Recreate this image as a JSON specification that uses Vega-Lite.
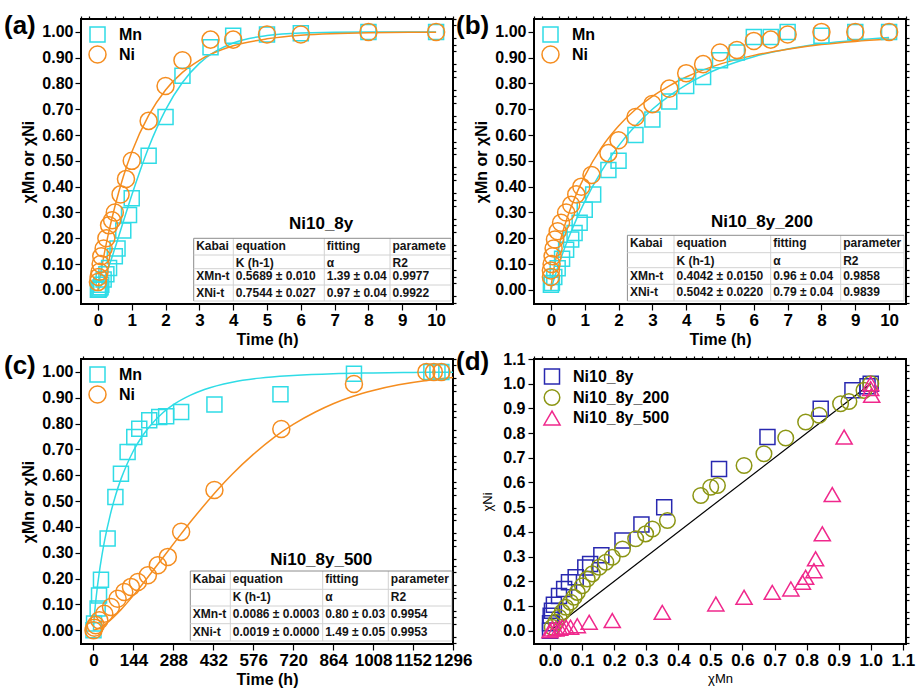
{
"$schema":"https://vega.github.io/schema/vega-lite/v6.json",
"background":"white",
"padding":{"left":3,"top":12,"right":5,"bottom":5},
"datasets":{
"grid":[{"k":0},{"k":1},{"k":2},{"k":3},{"k":4}],
"one":[{}],
"a_fit":[
{"s":"Mn","t":0,"v":0},{"s":"Mn","t":0.1,"v":0.018},{"s":"Mn","t":0.25,"v":0.064},{"s":"Mn","t":0.5,"v":0.16},{"s":"Mn","t":0.75,"v":0.264},{"s":"Mn","t":1,"v":0.367},{"s":"Mn","t":1.25,"v":0.463},{"s":"Mn","t":1.5,"v":0.552},{"s":"Mn","t":1.75,"v":0.63},{"s":"Mn","t":2,"v":0.698},{"s":"Mn","t":2.5,"v":0.804},{"s":"Mn","t":3,"v":0.878},{"s":"Mn","t":3.5,"v":0.926},{"s":"Mn","t":4,"v":0.957},{"s":"Mn","t":5,"v":0.986},{"s":"Mn","t":6,"v":0.996},{"s":"Mn","t":8,"v":1.0},{"s":"Mn","t":10,"v":1.0},
{"s":"Ni","t":0,"v":0},{"s":"Ni","t":0.01,"v":0.009},{"s":"Ni","t":0.02,"v":0.017},{"s":"Ni","t":0.05,"v":0.041},{"s":"Ni","t":0.1,"v":0.078},{"s":"Ni","t":0.2,"v":0.148},{"s":"Ni","t":0.3,"v":0.211},{"s":"Ni","t":0.5,"v":0.322},{"s":"Ni","t":0.75,"v":0.438},{"s":"Ni","t":1,"v":0.533},{"s":"Ni","t":1.5,"v":0.676},{"s":"Ni","t":2,"v":0.775},{"s":"Ni","t":2.5,"v":0.843},{"s":"Ni","t":3,"v":0.89},{"s":"Ni","t":4,"v":0.946},{"s":"Ni","t":5,"v":0.973},{"s":"Ni","t":6,"v":0.987},{"s":"Ni","t":8,"v":0.997},{"s":"Ni","t":10,"v":0.999}],
"a_pts":[
{"s":"Mn","t":0,"v":0.0},{"s":"Mn","t":0.02,"v":0.0},{"s":"Mn","t":0.05,"v":0.005},{"s":"Mn","t":0.08,"v":0.01},{"s":"Mn","t":0.1,"v":0.02},{"s":"Mn","t":0.17,"v":0.04},{"s":"Mn","t":0.25,"v":0.06},{"s":"Mn","t":0.33,"v":0.085},{"s":"Mn","t":0.5,"v":0.13},{"s":"Mn","t":0.58,"v":0.16},{"s":"Mn","t":0.75,"v":0.23},{"s":"Mn","t":0.92,"v":0.29},{"s":"Mn","t":1.0,"v":0.355},{"s":"Mn","t":1.5,"v":0.52},{"s":"Mn","t":2.0,"v":0.67},{"s":"Mn","t":2.5,"v":0.83},{"s":"Mn","t":3.33,"v":0.94},{"s":"Mn","t":4.0,"v":0.985},{"s":"Mn","t":5.0,"v":0.99},{"s":"Mn","t":6.0,"v":0.995},{"s":"Mn","t":8.0,"v":1.0},{"s":"Mn","t":10.0,"v":1.0},
{"s":"Ni","t":0,"v":0.03},{"s":"Ni","t":0.02,"v":0.05},{"s":"Ni","t":0.05,"v":0.07},{"s":"Ni","t":0.08,"v":0.1},{"s":"Ni","t":0.1,"v":0.13},{"s":"Ni","t":0.17,"v":0.16},{"s":"Ni","t":0.25,"v":0.2},{"s":"Ni","t":0.33,"v":0.25},{"s":"Ni","t":0.42,"v":0.27},{"s":"Ni","t":0.5,"v":0.3},{"s":"Ni","t":0.67,"v":0.37},{"s":"Ni","t":0.83,"v":0.43},{"s":"Ni","t":1.0,"v":0.5},{"s":"Ni","t":1.5,"v":0.655},{"s":"Ni","t":2.0,"v":0.79},{"s":"Ni","t":2.5,"v":0.89},{"s":"Ni","t":3.33,"v":0.97},{"s":"Ni","t":4.0,"v":0.97},{"s":"Ni","t":5.0,"v":0.99},{"s":"Ni","t":6.0,"v":0.99},{"s":"Ni","t":8.0,"v":1.0},{"s":"Ni","t":10.0,"v":1.0}],
"b_fit":[
{"s":"Mn","t":0,"v":0},{"s":"Mn","t":0.01,"v":0.005},{"s":"Mn","t":0.05,"v":0.023},{"s":"Mn","t":0.1,"v":0.045},{"s":"Mn","t":0.25,"v":0.105},{"s":"Mn","t":0.5,"v":0.194},{"s":"Mn","t":0.75,"v":0.272},{"s":"Mn","t":1,"v":0.342},{"s":"Mn","t":1.5,"v":0.461},{"s":"Mn","t":2,"v":0.558},{"s":"Mn","t":2.5,"v":0.636},{"s":"Mn","t":3,"v":0.7},{"s":"Mn","t":3.5,"v":0.752},{"s":"Mn","t":4,"v":0.795},{"s":"Mn","t":5,"v":0.86},{"s":"Mn","t":6,"v":0.904},{"s":"Mn","t":7,"v":0.934},{"s":"Mn","t":8,"v":0.954},{"s":"Mn","t":9,"v":0.968},{"s":"Mn","t":10,"v":0.978},
{"s":"Ni","t":0,"v":0},{"s":"Ni","t":0.01,"v":0.015},{"s":"Ni","t":0.02,"v":0.026},{"s":"Ni","t":0.05,"v":0.053},{"s":"Ni","t":0.1,"v":0.09},{"s":"Ni","t":0.25,"v":0.177},{"s":"Ni","t":0.5,"v":0.286},{"s":"Ni","t":0.75,"v":0.371},{"s":"Ni","t":1,"v":0.441},{"s":"Ni","t":1.5,"v":0.552},{"s":"Ni","t":2,"v":0.635},{"s":"Ni","t":2.5,"v":0.699},{"s":"Ni","t":3,"v":0.75},{"s":"Ni","t":3.5,"v":0.791},{"s":"Ni","t":4,"v":0.825},{"s":"Ni","t":5,"v":0.875},{"s":"Ni","t":6,"v":0.909},{"s":"Ni","t":7,"v":0.933},{"s":"Ni","t":8,"v":0.951},{"s":"Ni","t":9,"v":0.963},{"s":"Ni","t":10,"v":0.972}],
"b_pts":[
{"s":"Mn","t":0,"v":0.02},{"s":"Mn","t":0.03,"v":0.026},{"s":"Mn","t":0.1,"v":0.05},{"s":"Mn","t":0.2,"v":0.084},{"s":"Mn","t":0.33,"v":0.12},{"s":"Mn","t":0.45,"v":0.155},{"s":"Mn","t":0.6,"v":0.195},{"s":"Mn","t":0.7,"v":0.22},{"s":"Mn","t":0.85,"v":0.26},{"s":"Mn","t":1.0,"v":0.31},{"s":"Mn","t":1.25,"v":0.37},{"s":"Mn","t":1.7,"v":0.465},{"s":"Mn","t":2.0,"v":0.5},{"s":"Mn","t":2.5,"v":0.6},{"s":"Mn","t":3.0,"v":0.66},{"s":"Mn","t":3.5,"v":0.73},{"s":"Mn","t":4.0,"v":0.79},{"s":"Mn","t":4.5,"v":0.825},{"s":"Mn","t":5.0,"v":0.89},{"s":"Mn","t":5.5,"v":0.92},{"s":"Mn","t":6.0,"v":0.98},{"s":"Mn","t":6.5,"v":0.98},{"s":"Mn","t":7.0,"v":1.0},{"s":"Mn","t":8.0,"v":0.985},{"s":"Mn","t":9.0,"v":1.0},{"s":"Mn","t":10.0,"v":1.0},
{"s":"Ni","t":0,"v":0.05},{"s":"Ni","t":0.0,"v":0.075},{"s":"Ni","t":0.02,"v":0.1},{"s":"Ni","t":0.05,"v":0.13},{"s":"Ni","t":0.08,"v":0.16},{"s":"Ni","t":0.12,"v":0.195},{"s":"Ni","t":0.2,"v":0.227},{"s":"Ni","t":0.3,"v":0.26},{"s":"Ni","t":0.45,"v":0.3},{"s":"Ni","t":0.6,"v":0.33},{"s":"Ni","t":0.75,"v":0.37},{"s":"Ni","t":0.9,"v":0.4},{"s":"Ni","t":1.2,"v":0.445},{"s":"Ni","t":1.7,"v":0.53},{"s":"Ni","t":2.0,"v":0.58},{"s":"Ni","t":2.5,"v":0.67},{"s":"Ni","t":3.0,"v":0.72},{"s":"Ni","t":3.5,"v":0.78},{"s":"Ni","t":4.0,"v":0.84},{"s":"Ni","t":4.5,"v":0.875},{"s":"Ni","t":5.0,"v":0.92},{"s":"Ni","t":5.5,"v":0.93},{"s":"Ni","t":6.0,"v":0.965},{"s":"Ni","t":6.5,"v":0.97},{"s":"Ni","t":7.0,"v":0.99},{"s":"Ni","t":8.0,"v":1.0},{"s":"Ni","t":9.0,"v":1.0},{"s":"Ni","t":10.0,"v":1.0}],
"c_fit":[
{"s":"Mn","t":0,"v":0},{"s":"Mn","t":1,"v":0.022},{"s":"Mn","t":3,"v":0.052},{"s":"Mn","t":5,"v":0.078},{"s":"Mn","t":10,"v":0.131},{"s":"Mn","t":20,"v":0.217},{"s":"Mn","t":30,"v":0.287},{"s":"Mn","t":40,"v":0.347},{"s":"Mn","t":60,"v":0.445},{"s":"Mn","t":80,"v":0.524},{"s":"Mn","t":100,"v":0.588},{"s":"Mn","t":120,"v":0.641},{"s":"Mn","t":144,"v":0.695},{"s":"Mn","t":175,"v":0.75},{"s":"Mn","t":200,"v":0.786},{"s":"Mn","t":250,"v":0.842},{"s":"Mn","t":288,"v":0.873},{"s":"Mn","t":350,"v":0.91},{"s":"Mn","t":400,"v":0.932},{"s":"Mn","t":500,"v":0.96},{"s":"Mn","t":600,"v":0.976},{"s":"Mn","t":720,"v":0.986},{"s":"Mn","t":864,"v":0.993},{"s":"Mn","t":1008,"v":0.996},{"s":"Mn","t":1152,"v":0.998},{"s":"Mn","t":1296,"v":0.999},
{"s":"Ni","t":0,"v":0},{"s":"Ni","t":20,"v":0.008},{"s":"Ni","t":50,"v":0.03},{"s":"Ni","t":100,"v":0.081},{"s":"Ni","t":150,"v":0.143},{"s":"Ni","t":200,"v":0.211},{"s":"Ni","t":250,"v":0.281},{"s":"Ni","t":300,"v":0.351},{"s":"Ni","t":350,"v":0.42},{"s":"Ni","t":400,"v":0.485},{"s":"Ni","t":450,"v":0.547},{"s":"Ni","t":500,"v":0.604},{"s":"Ni","t":576,"v":0.681},{"s":"Ni","t":650,"v":0.746},{"s":"Ni","t":720,"v":0.797},{"s":"Ni","t":800,"v":0.845},{"s":"Ni","t":864,"v":0.877},{"s":"Ni","t":936,"v":0.906},{"s":"Ni","t":1008,"v":0.928},{"s":"Ni","t":1100,"v":0.95},{"s":"Ni","t":1200,"v":0.967},{"s":"Ni","t":1296,"v":0.978}],
"c_pts":[
{"s":"Mn","t":0,"v":0.0},{"s":"Mn","t":2,"v":0.026},{"s":"Mn","t":15,"v":0.084},{"s":"Mn","t":20,"v":0.135},{"s":"Mn","t":27,"v":0.196},{"s":"Mn","t":51,"v":0.355},{"s":"Mn","t":79,"v":0.516},{"s":"Mn","t":99,"v":0.606},{"s":"Mn","t":123,"v":0.69},{"s":"Mn","t":147,"v":0.748},{"s":"Mn","t":165,"v":0.78},{"s":"Mn","t":201,"v":0.813},{"s":"Mn","t":237,"v":0.826},{"s":"Mn","t":262,"v":0.828},{"s":"Mn","t":316,"v":0.845},{"s":"Mn","t":436,"v":0.874},{"s":"Mn","t":674,"v":0.914},{"s":"Mn","t":939,"v":0.993},{"s":"Mn","t":1218,"v":1.0},{"s":"Mn","t":1240,"v":1.0},{"s":"Mn","t":1254,"v":1.0},
{"s":"Ni","t":0,"v":0.0},{"s":"Ni","t":3,"v":0.01},{"s":"Ni","t":8,"v":0.02},{"s":"Ni","t":21,"v":0.039},{"s":"Ni","t":39,"v":0.064},{"s":"Ni","t":63,"v":0.09},{"s":"Ni","t":87,"v":0.122},{"s":"Ni","t":111,"v":0.148},{"s":"Ni","t":135,"v":0.168},{"s":"Ni","t":160,"v":0.187},{"s":"Ni","t":196,"v":0.213},{"s":"Ni","t":232,"v":0.252},{"s":"Ni","t":268,"v":0.284},{"s":"Ni","t":316,"v":0.381},{"s":"Ni","t":436,"v":0.543},{"s":"Ni","t":677,"v":0.779},{"s":"Ni","t":939,"v":0.953},{"s":"Ni","t":1200,"v":1.0},{"s":"Ni","t":1227,"v":1.0},{"s":"Ni","t":1254,"v":1.0}],
"d_line":[{"x":0,"y":0},{"x":1,"y":1}],
"d_pts":[
{"s":"Ni10_8y","x":0,"y":0},{"s":"Ni10_8y","x":0.0,"y":0.03},{"s":"Ni10_8y","x":0.002,"y":0.06},{"s":"Ni10_8y","x":0.006,"y":0.081},{"s":"Ni10_8y","x":0.012,"y":0.105},{"s":"Ni10_8y","x":0.028,"y":0.14},{"s":"Ni10_8y","x":0.044,"y":0.169},{"s":"Ni10_8y","x":0.059,"y":0.196},{"s":"Ni10_8y","x":0.08,"y":0.216},{"s":"Ni10_8y","x":0.11,"y":0.256},{"s":"Ni10_8y","x":0.125,"y":0.27},{"s":"Ni10_8y","x":0.16,"y":0.305},{"s":"Ni10_8y","x":0.226,"y":0.365},{"s":"Ni10_8y","x":0.285,"y":0.43},{"s":"Ni10_8y","x":0.356,"y":0.5},{"s":"Ni10_8y","x":0.527,"y":0.655},{"s":"Ni10_8y","x":0.678,"y":0.784},{"s":"Ni10_8y","x":0.844,"y":0.899},{"s":"Ni10_8y","x":0.943,"y":0.973},{"s":"Ni10_8y","x":0.99,"y":0.99},{"s":"Ni10_8y","x":1.0,"y":1.0},
{"s":"Ni10_8y_200","x":0.007,"y":0.014},{"s":"Ni10_8y_200","x":0.018,"y":0.035},{"s":"Ni10_8y_200","x":0.028,"y":0.054},{"s":"Ni10_8y_200","x":0.038,"y":0.075},{"s":"Ni10_8y_200","x":0.049,"y":0.095},{"s":"Ni10_8y_200","x":0.064,"y":0.115},{"s":"Ni10_8y_200","x":0.075,"y":0.135},{"s":"Ni10_8y_200","x":0.085,"y":0.155},{"s":"Ni10_8y_200","x":0.101,"y":0.182},{"s":"Ni10_8y_200","x":0.116,"y":0.209},{"s":"Ni10_8y_200","x":0.132,"y":0.23},{"s":"Ni10_8y_200","x":0.153,"y":0.257},{"s":"Ni10_8y_200","x":0.174,"y":0.277},{"s":"Ni10_8y_200","x":0.194,"y":0.297},{"s":"Ni10_8y_200","x":0.226,"y":0.331},{"s":"Ni10_8y_200","x":0.267,"y":0.372},{"s":"Ni10_8y_200","x":0.298,"y":0.392},{"s":"Ni10_8y_200","x":0.319,"y":0.412},{"s":"Ni10_8y_200","x":0.366,"y":0.446},{"s":"Ni10_8y_200","x":0.47,"y":0.547},{"s":"Ni10_8y_200","x":0.501,"y":0.581},{"s":"Ni10_8y_200","x":0.522,"y":0.588},{"s":"Ni10_8y_200","x":0.605,"y":0.669},{"s":"Ni10_8y_200","x":0.667,"y":0.716},{"s":"Ni10_8y_200","x":0.735,"y":0.78},{"s":"Ni10_8y_200","x":0.797,"y":0.845},{"s":"Ni10_8y_200","x":0.839,"y":0.872},{"s":"Ni10_8y_200","x":0.906,"y":0.919},{"s":"Ni10_8y_200","x":0.932,"y":0.928},{"s":"Ni10_8y_200","x":0.979,"y":0.973},{"s":"Ni10_8y_200","x":1.0,"y":1.0},
{"s":"Ni10_8y_500","x":0.0,"y":0.0},{"s":"Ni10_8y_500","x":0.007,"y":0.007},{"s":"Ni10_8y_500","x":0.018,"y":0.007},{"s":"Ni10_8y_500","x":0.03,"y":0.01},{"s":"Ni10_8y_500","x":0.038,"y":0.014},{"s":"Ni10_8y_500","x":0.05,"y":0.014},{"s":"Ni10_8y_500","x":0.064,"y":0.014},{"s":"Ni10_8y_500","x":0.085,"y":0.02},{"s":"Ni10_8y_500","x":0.122,"y":0.034},{"s":"Ni10_8y_500","x":0.194,"y":0.041},{"s":"Ni10_8y_500","x":0.35,"y":0.074},{"s":"Ni10_8y_500","x":0.517,"y":0.108},{"s":"Ni10_8y_500","x":0.605,"y":0.135},{"s":"Ni10_8y_500","x":0.693,"y":0.155},{"s":"Ni10_8y_500","x":0.751,"y":0.169},{"s":"Ni10_8y_500","x":0.787,"y":0.196},{"s":"Ni10_8y_500","x":0.797,"y":0.216},{"s":"Ni10_8y_500","x":0.823,"y":0.243},{"s":"Ni10_8y_500","x":0.828,"y":0.291},{"s":"Ni10_8y_500","x":0.849,"y":0.392},{"s":"Ni10_8y_500","x":0.88,"y":0.551},{"s":"Ni10_8y_500","x":0.917,"y":0.784},{"s":"Ni10_8y_500","x":1.003,"y":0.953},{"s":"Ni10_8y_500","x":1.0,"y":0.98},{"s":"Ni10_8y_500","x":1.0,"y":1.0}],
"a_tab":[{"r":0,"c":0,"txt":"Kabai"},{"r":0,"c":1,"txt":"equation"},{"r":0,"c":2,"txt":"fitting"},{"r":0,"c":3,"txt":"paramete"},{"r":1,"c":1,"txt":"K (h-1)"},{"r":1,"c":2,"txt":"α"},{"r":1,"c":3,"txt":"R2"},{"r":2,"c":0,"txt":"XMn-t"},{"r":2,"c":1,"txt":"0.5689 ± 0.010"},{"r":2,"c":2,"txt":"1.39 ± 0.04"},{"r":2,"c":3,"txt":"0.9977"},{"r":3,"c":0,"txt":"XNi-t"},{"r":3,"c":1,"txt":"0.7544 ± 0.027"},{"r":3,"c":2,"txt":"0.97 ± 0.04"},{"r":3,"c":3,"txt":"0.9922"}],
"b_tab":[{"r":0,"c":0,"txt":"Kabai"},{"r":0,"c":1,"txt":"equation"},{"r":0,"c":2,"txt":"fitting"},{"r":0,"c":3,"txt":"parameter"},{"r":1,"c":1,"txt":"K (h-1)"},{"r":1,"c":2,"txt":"α"},{"r":1,"c":3,"txt":"R2"},{"r":2,"c":0,"txt":"XMn-t"},{"r":2,"c":1,"txt":"0.4042 ± 0.0150"},{"r":2,"c":2,"txt":"0.96 ± 0.04"},{"r":2,"c":3,"txt":"0.9858"},{"r":3,"c":0,"txt":"XNi-t"},{"r":3,"c":1,"txt":"0.5042 ± 0.0220"},{"r":3,"c":2,"txt":"0.79 ± 0.04"},{"r":3,"c":3,"txt":"0.9839"}],
"c_tab":[{"r":0,"c":0,"txt":"Kabai"},{"r":0,"c":1,"txt":"equation"},{"r":0,"c":2,"txt":"fitting"},{"r":0,"c":3,"txt":"parameter"},{"r":1,"c":1,"txt":"K (h-1)"},{"r":1,"c":2,"txt":"α"},{"r":1,"c":3,"txt":"R2"},{"r":2,"c":0,"txt":"XMn-t"},{"r":2,"c":1,"txt":"0.0086 ± 0.0003"},{"r":2,"c":2,"txt":"0.80 ± 0.03"},{"r":2,"c":3,"txt":"0.9954"},{"r":3,"c":0,"txt":"XNi-t"},{"r":3,"c":1,"txt":"0.0019 ± 0.0000"},{"r":3,"c":2,"txt":"1.49 ± 0.05"},{"r":3,"c":3,"txt":"0.9953"}]
},
"columns":2,
"spacing":{"row":55,"column":81},
"bounds":"flush",
"resolve":{"scale":{"color":"independent","shape":"independent","size":"independent","x":"independent","y":"independent"},"legend":{"color":"independent","shape":"independent","size":"independent"}},
"concat":[
{
"width":372,"height":285,
"title":{"text":"(a)","anchor":"start","frame":"group","dx":-77,"offset":0,"dy":24,"fontSize":26,"fontWeight":"bold","font":"Liberation Sans","color":"black"},
"layer":[
{"layer":[
{"data":{"name":"a_fit"},"transform":[{"filter":"datum.s=='Mn'"}],"mark":{"type":"line","strokeWidth":1.5,"interpolate":"monotone","color":"#2fdce6"},
"encoding":{
"x":{"field":"t","type":"quantitative","scale":{"domain":[-0.5,10.5],"nice":false,"zero":false},
"axis":{"values":[0,1,2,3,4,5,6,7,8,9,10],"tickCount":200,"format":"d","title":"Time (h)","labelFontSize":17,"labelPadding":2,"titlePadding":3,"tickSize":6,"labelOverlap":false}},
"y":{"field":"v","type":"quantitative","scale":{"domain":[-0.055,1.05],"nice":false,"zero":false},
"axis":{"values":[0,0.1,0.2,0.3,0.4,0.5,0.6,0.7,0.8,0.9,1],"tickCount":200,"format":".2f","title":"χMn or χNi","labelPadding":2,"titlePadding":5,"tickSize":6,"labelOverlap":false}}}},
{"data":{"name":"a_fit"},"transform":[{"filter":"datum.s=='Ni'"}],"mark":{"type":"line","strokeWidth":1.5,"interpolate":"monotone","color":"#f58d1f"},
"encoding":{"x":{"field":"t","type":"quantitative"},"y":{"field":"v","type":"quantitative"}}},
{"data":{"name":"a_pts"},"mark":{"type":"point","filled":false,"strokeWidth":1.5,"opacity":1},
"encoding":{"x":{"field":"t","type":"quantitative"},"y":{"field":"v","type":"quantitative"},
"color":{"field":"s","type":"nominal","scale":{"domain":["Mn","Ni"],"range":["#2fdce6","#f58d1f"]},"legend":{"title":null}},
"shape":{"field":"s","type":"nominal","scale":{"domain":["Mn","Ni"],"range":["square","circle"]},"legend":{"title":null}},
"size":{"field":"s","type":"ordinal","scale":{"domain":["Mn","Ni"],"range":[225,290]},"legend":null}}},
{"data":{"name":"one"},"mark":{"type":"text","fontSize":17,"fontWeight":"bold","color":"black","align":"center","baseline":"middle"},
"encoding":{"x":{"datum":6.6,"type":"quantitative"},"y":{"datum":0.257,"type":"quantitative"},"text":{"value":"Ni10_8y"}}}
]},
{"data":{"name":"one"},"mark":{"type":"point","opacity":0},
"encoding":{"x":{"datum":0,"type":"quantitative","scale":{"domain":[-0.5,10.5],"nice":false,"zero":false},"axis":{"values":[-0.5,-0.25,0.25,0.5,0.75,1.25,1.5,1.75,2.25,2.5,2.75,3.25,3.5,3.75,4.25,4.5,4.75,5.25,5.5,5.75,6.25,6.5,6.75,7.25,7.5,7.75,8.25,8.5,8.75,9.25,9.5,9.75,10.25,10.5],"tickCount":200,"labels":false,"title":null,"tickSize":3}},
"y":{"datum":0,"type":"quantitative","scale":{"domain":[-0.055,1.05],"nice":false,"zero":false},"axis":{"values":[-0.05,-0.025,0.025,0.05,0.075,0.125,0.15,0.175,0.225,0.25,0.275,0.325,0.35,0.375,0.425,0.45,0.475,0.525,0.55,0.575,0.625,0.65,0.675,0.725,0.75,0.775,0.825,0.85,0.875,0.925,0.95,0.975,1.025,1.05],"tickCount":200,"labels":false,"title":null,"tickSize":3}}}},
{"layer":[
{"data":{"name":"grid"},"mark":{"type":"rule","strokeWidth":1},
"encoding":{"x":{"field":"k","type":"quantitative","scale":{"domain":[0,1,2,3,4],"range":[112.7,152.3,243.3,309,370],"nice":false,"zero":false},"axis":null},
"y":{"datum":0,"type":"quantitative","scale":{"domain":[0,1,2,3,4],"range":[219.3,236,249.7,266,282],"nice":false,"zero":false},"axis":null},"y2":{"datum":4},
"color":{"condition":{"test":"datum.k==0","value":"#8c8c8c"},"value":"#d2d2d2"}}},
{"data":{"name":"grid"},"mark":{"type":"rule","strokeWidth":1},
"encoding":{"y":{"field":"k","type":"quantitative"},"x":{"datum":0,"type":"quantitative"},"x2":{"datum":4},
"color":{"condition":{"test":"datum.k==0","value":"#8c8c8c"},"value":"#d2d2d2"}}},
{"data":{"name":"a_tab"},"mark":{"type":"text","align":"left","baseline":"middle","dx":2.5,"dy":7.5,"fontSize":12,"fontWeight":"bold","color":"#141414"},
"encoding":{"x":{"field":"c","type":"quantitative"},"y":{"field":"r","type":"quantitative"},"text":{"field":"txt"}}}
]}
],
"resolve":{"scale":{"x":"independent","y":"independent"},"axis":{"x":"independent","y":"independent"}}
},
{
"width":372,"height":285,
"title":{"text":"(b)","anchor":"start","frame":"group","dx":-78,"offset":0,"dy":24,"fontSize":26,"fontWeight":"bold","font":"Liberation Sans","color":"black"},
"layer":[
{"layer":[
{"data":{"name":"b_fit"},"transform":[{"filter":"datum.s=='Mn'"}],"mark":{"type":"line","strokeWidth":1.5,"interpolate":"monotone","color":"#2fdce6"},
"encoding":{
"x":{"field":"t","type":"quantitative","scale":{"domain":[-0.5,10.5],"nice":false,"zero":false},
"axis":{"values":[0,1,2,3,4,5,6,7,8,9,10],"tickCount":200,"format":"d","title":"Time (h)","labelFontSize":17,"labelPadding":2,"titlePadding":3,"tickSize":6,"labelOverlap":false}},
"y":{"field":"v","type":"quantitative","scale":{"domain":[-0.055,1.05],"nice":false,"zero":false},
"axis":{"values":[0,0.1,0.2,0.3,0.4,0.5,0.6,0.7,0.8,0.9,1],"tickCount":200,"format":".2f","title":"χMn or χNi","labelPadding":2,"titlePadding":5,"tickSize":6,"labelOverlap":false}}}},
{"data":{"name":"b_fit"},"transform":[{"filter":"datum.s=='Ni'"}],"mark":{"type":"line","strokeWidth":1.5,"interpolate":"monotone","color":"#f58d1f"},
"encoding":{"x":{"field":"t","type":"quantitative"},"y":{"field":"v","type":"quantitative"}}},
{"data":{"name":"b_pts"},"mark":{"type":"point","filled":false,"strokeWidth":1.5,"opacity":1},
"encoding":{"x":{"field":"t","type":"quantitative"},"y":{"field":"v","type":"quantitative"},
"color":{"field":"s","type":"nominal","scale":{"domain":["Mn","Ni"],"range":["#2fdce6","#f58d1f"]},"legend":{"title":null}},
"shape":{"field":"s","type":"nominal","scale":{"domain":["Mn","Ni"],"range":["square","circle"]},"legend":{"title":null}},
"size":{"field":"s","type":"ordinal","scale":{"domain":["Mn","Ni"],"range":[225,290]},"legend":null}}},
{"data":{"name":"one"},"mark":{"type":"text","fontSize":17,"fontWeight":"bold","color":"black","align":"center","baseline":"middle"},
"encoding":{"x":{"datum":6.24,"type":"quantitative"},"y":{"datum":0.263,"type":"quantitative"},"text":{"value":"Ni10_8y_200"}}}
]},
{"data":{"name":"one"},"mark":{"type":"point","opacity":0},
"encoding":{"x":{"datum":0,"type":"quantitative","scale":{"domain":[-0.5,10.5],"nice":false,"zero":false},"axis":{"values":[-0.5,-0.25,0.25,0.5,0.75,1.25,1.5,1.75,2.25,2.5,2.75,3.25,3.5,3.75,4.25,4.5,4.75,5.25,5.5,5.75,6.25,6.5,6.75,7.25,7.5,7.75,8.25,8.5,8.75,9.25,9.5,9.75,10.25,10.5],"tickCount":200,"labels":false,"title":null,"tickSize":3}},
"y":{"datum":0,"type":"quantitative","scale":{"domain":[-0.055,1.05],"nice":false,"zero":false},"axis":{"values":[-0.05,-0.025,0.025,0.05,0.075,0.125,0.15,0.175,0.225,0.25,0.275,0.325,0.35,0.375,0.425,0.45,0.475,0.525,0.55,0.575,0.625,0.65,0.675,0.725,0.75,0.775,0.825,0.85,0.875,0.925,0.95,0.975,1.025,1.05],"tickCount":200,"labels":false,"title":null,"tickSize":3}}}},
{"layer":[
{"data":{"name":"grid"},"mark":{"type":"rule","strokeWidth":1},
"encoding":{"x":{"field":"k","type":"quantitative","scale":{"domain":[0,1,2,3,4],"range":[93.4,140,236.7,306.7,370],"nice":false,"zero":false},"axis":null},
"y":{"datum":0,"type":"quantitative","scale":{"domain":[0,1,2,3,4],"range":[216.3,233.7,248.7,265.3,282],"nice":false,"zero":false},"axis":null},"y2":{"datum":4},
"color":{"condition":{"test":"datum.k==0","value":"#8c8c8c"},"value":"#d2d2d2"}}},
{"data":{"name":"grid"},"mark":{"type":"rule","strokeWidth":1},
"encoding":{"y":{"field":"k","type":"quantitative"},"x":{"datum":0,"type":"quantitative"},"x2":{"datum":4},
"color":{"condition":{"test":"datum.k==0","value":"#8c8c8c"},"value":"#d2d2d2"}}},
{"data":{"name":"b_tab"},"mark":{"type":"text","align":"left","baseline":"middle","dx":2.5,"dy":8,"fontSize":12,"fontWeight":"bold","color":"#141414"},
"encoding":{"x":{"field":"c","type":"quantitative"},"y":{"field":"r","type":"quantitative"},"text":{"field":"txt"}}}
]}
],
"resolve":{"scale":{"x":"independent","y":"independent"},"axis":{"x":"independent","y":"independent"}}
},
{
"width":372,"height":285,
"title":{"text":"(c)","anchor":"start","frame":"group","dx":-77,"offset":0,"dy":24,"fontSize":26,"fontWeight":"bold","font":"Liberation Sans","color":"black"},
"layer":[
{"layer":[
{"data":{"name":"c_fit"},"transform":[{"filter":"datum.s=='Mn'"}],"mark":{"type":"line","strokeWidth":1.5,"interpolate":"monotone","color":"#2fdce6"},
"encoding":{
"x":{"field":"t","type":"quantitative","scale":{"domain":[-45,1296],"nice":false,"zero":false},
"axis":{"values":[0,144,288,432,576,720,864,1008,1152,1296],"tickCount":200,"format":"d","title":"Time (h)","labelFontSize":17,"labelPadding":2,"titlePadding":3,"tickSize":6,"labelOverlap":false}},
"y":{"field":"v","type":"quantitative","scale":{"domain":[-0.053,1.05],"nice":false,"zero":false},
"axis":{"values":[0,0.1,0.2,0.3,0.4,0.5,0.6,0.7,0.8,0.9,1],"tickCount":200,"format":".2f","title":"χMn or χNi","labelPadding":2,"titlePadding":5,"tickSize":6,"labelOverlap":false}}}},
{"data":{"name":"c_fit"},"transform":[{"filter":"datum.s=='Ni'"}],"mark":{"type":"line","strokeWidth":1.5,"interpolate":"monotone","color":"#f58d1f"},
"encoding":{"x":{"field":"t","type":"quantitative"},"y":{"field":"v","type":"quantitative"}}},
{"data":{"name":"c_pts"},"mark":{"type":"point","filled":false,"strokeWidth":1.5,"opacity":1},
"encoding":{"x":{"field":"t","type":"quantitative"},"y":{"field":"v","type":"quantitative"},
"color":{"field":"s","type":"nominal","scale":{"domain":["Mn","Ni"],"range":["#2fdce6","#f58d1f"]},"legend":{"title":null}},
"shape":{"field":"s","type":"nominal","scale":{"domain":["Mn","Ni"],"range":["square","circle"]},"legend":{"title":null}},
"size":{"field":"s","type":"ordinal","scale":{"domain":["Mn","Ni"],"range":[225,290]},"legend":null}}},
{"data":{"name":"one"},"mark":{"type":"text","fontSize":17,"fontWeight":"bold","color":"black","align":"center","baseline":"middle"},
"encoding":{"x":{"datum":821,"type":"quantitative"},"y":{"datum":0.271,"type":"quantitative"},"text":{"value":"Ni10_8y_500"}}}
]},
{"data":{"name":"one"},"mark":{"type":"point","opacity":0},
"encoding":{"x":{"datum":0,"type":"quantitative","scale":{"domain":[-45,1296],"nice":false,"zero":false},"axis":{"values":[-36,36,72,108,180,216,252,324,360,396,468,504,540,612,648,684,756,792,828,900,936,972,1044,1080,1116,1188,1224,1260],"tickCount":200,"labels":false,"title":null,"tickSize":3}},
"y":{"datum":0,"type":"quantitative","scale":{"domain":[-0.053,1.05],"nice":false,"zero":false},"axis":{"values":[-0.05,-0.025,0.025,0.05,0.075,0.125,0.15,0.175,0.225,0.25,0.275,0.325,0.35,0.375,0.425,0.45,0.475,0.525,0.55,0.575,0.625,0.65,0.675,0.725,0.75,0.775,0.825,0.85,0.875,0.925,0.95,0.975,1.025,1.05],"tickCount":200,"labels":false,"title":null,"tickSize":3}}}},
{"layer":[
{"data":{"name":"grid"},"mark":{"type":"rule","strokeWidth":1},
"encoding":{"x":{"field":"k","type":"quantitative","scale":{"domain":[0,1,2,3,4],"range":[109.3,149.3,241.7,307.3,370.7],"nice":false,"zero":false},"axis":null},
"y":{"datum":0,"type":"quantitative","scale":{"domain":[0,1,2,3,4],"range":[212,230.3,247,264.7,282],"nice":false,"zero":false},"axis":null},"y2":{"datum":4},
"color":{"condition":{"test":"datum.k==0","value":"#8c8c8c"},"value":"#d2d2d2"}}},
{"data":{"name":"grid"},"mark":{"type":"rule","strokeWidth":1},
"encoding":{"y":{"field":"k","type":"quantitative"},"x":{"datum":0,"type":"quantitative"},"x2":{"datum":4},
"color":{"condition":{"test":"datum.k==0","value":"#8c8c8c"},"value":"#d2d2d2"}}},
{"data":{"name":"c_tab"},"mark":{"type":"text","align":"left","baseline":"middle","dx":2.5,"dy":8,"fontSize":12,"fontWeight":"bold","color":"#141414"},
"encoding":{"x":{"field":"c","type":"quantitative"},"y":{"field":"r","type":"quantitative"},"text":{"field":"txt"}}}
]}
],
"resolve":{"scale":{"x":"independent","y":"independent"},"axis":{"x":"independent","y":"independent"}}
},
{
"width":372,"height":285,
"title":{"text":"(d)","anchor":"start","frame":"group","dx":-78,"offset":0,"dy":24,"fontSize":26,"fontWeight":"bold","font":"Liberation Sans","color":"black"},
"layer":[
{"layer":[
{"data":{"name":"d_line"},"mark":{"type":"line","strokeWidth":1.2,"color":"black"},
"encoding":{
"x":{"field":"x","type":"quantitative","scale":{"domain":[-0.05,1.11],"nice":false,"zero":false},
"axis":{"values":[0,0.1,0.2,0.3,0.4,0.5,0.6,0.7,0.8,0.9,1,1.1],"tickCount":200,"format":".1f","title":"χMn","titleFontSize":13,"titleFontWeight":"normal","labelFontSize":17,"labelPadding":2,"titlePadding":4,"tickSize":6,"labelOverlap":false}},
"y":{"field":"y","type":"quantitative","scale":{"domain":[-0.054,1.1],"nice":false,"zero":false},
"axis":{"values":[0,0.1,0.2,0.3,0.4,0.5,0.6,0.7,0.8,0.9,1,1.1],"tickCount":200,"format":".1f","title":"χNi","titleFontSize":13,"titleFontWeight":"normal","labelPadding":3,"titlePadding":8,"tickSize":6,"labelOverlap":false}}}},
{"data":{"name":"d_pts"},"mark":{"type":"point","filled":false,"strokeWidth":1.5,"opacity":1},
"encoding":{"x":{"field":"x","type":"quantitative"},"y":{"field":"y","type":"quantitative"},
"color":{"field":"s","type":"nominal","scale":{"domain":["Ni10_8y","Ni10_8y_200","Ni10_8y_500"],"range":["#2828b0","#8c9614","#f0288c"]},"legend":{"title":null,"offset":9,"symbolSize":225,"rowPadding":-0.5}},
"shape":{"field":"s","type":"nominal","scale":{"domain":["Ni10_8y","Ni10_8y_200","Ni10_8y_500"],"range":["square","circle","triangle-up"]},"legend":{"title":null,"offset":9,"symbolSize":225,"rowPadding":-0.5}},
"size":{"field":"s","type":"ordinal","scale":{"domain":["Ni10_8y","Ni10_8y_200","Ni10_8y_500"],"range":[225,260,400]},"legend":null}}}
]},
{"data":{"name":"one"},"mark":{"type":"point","opacity":0},
"encoding":{"x":{"datum":0,"type":"quantitative","scale":{"domain":[-0.05,1.11],"nice":false,"zero":false},"axis":{"values":[-0.05,-0.025,0.025,0.05,0.075,0.125,0.15,0.175,0.225,0.25,0.275,0.325,0.35,0.375,0.425,0.45,0.475,0.525,0.55,0.575,0.625,0.65,0.675,0.725,0.75,0.775,0.825,0.85,0.875,0.925,0.95,0.975,1.025,1.05,1.075],"tickCount":200,"labels":false,"title":null,"tickSize":3}},
"y":{"datum":0,"type":"quantitative","scale":{"domain":[-0.054,1.1],"nice":false,"zero":false},"axis":{"values":[-0.05,-0.025,0.025,0.05,0.075,0.125,0.15,0.175,0.225,0.25,0.275,0.325,0.35,0.375,0.425,0.45,0.475,0.525,0.55,0.575,0.625,0.65,0.675,0.725,0.75,0.775,0.825,0.85,0.875,0.925,0.95,0.975,1.025,1.05,1.075],"tickCount":200,"labels":false,"title":null,"tickSize":3}}}}
],
"resolve":{"scale":{"x":"independent","y":"independent"},"axis":{"x":"independent","y":"independent"}}
}
],
"config":{
"font":"Liberation Sans",
"view":{"stroke":"black","strokeWidth":2},
"axis":{"labelFont":"Liberation Sans","labelFontWeight":"bold","labelColor":"black","labelFontSize":16,"titleFont":"Liberation Sans","titleFontWeight":"bold","titleFontSize":16,"titleColor":"black","tickColor":"black","tickWidth":1.2,"domain":false,"grid":false,"labelOverlap":false,"labelFlush":false},
"legend":{"orient":"top-left","offset":7,"padding":0,"labelFont":"Liberation Sans","labelFontSize":16,"labelFontWeight":"bold","labelColor":"black","symbolStrokeWidth":1.5,"symbolSize":190,"rowPadding":-3,"labelOffset":12,"symbolOpacity":1}
}
}
